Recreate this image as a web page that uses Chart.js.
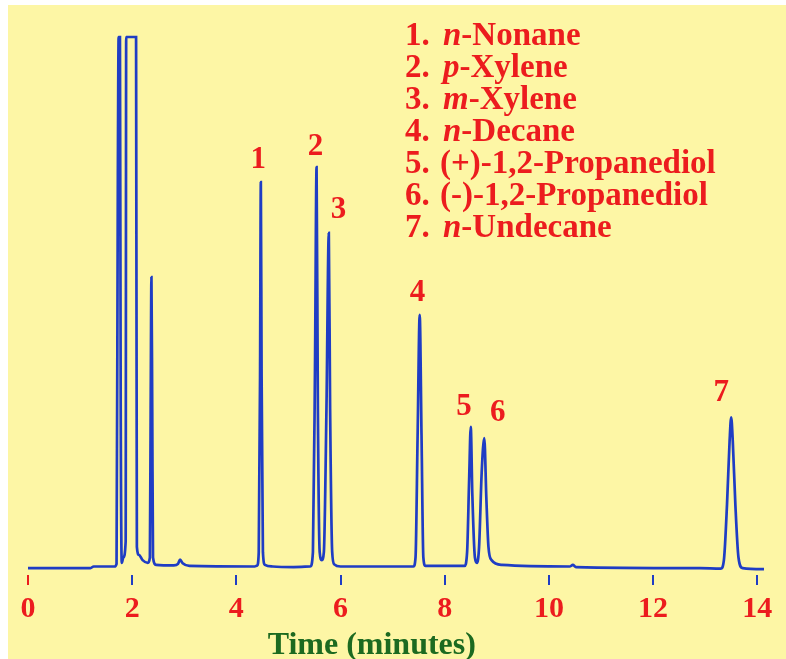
<!DOCTYPE html>
<html>
<head>
<meta charset="utf-8">
<title>Chromatogram</title>
<script src="https://cdn.jsdelivr.net/npm/chart.js@4"></script>
<style>
  html, body { margin: 0; padding: 0; background: #ffffff; }
  #chrom { display: block; }
</style>
</head>
<body>
<canvas id="chrom" width="786" height="659"></canvas>
<script>
// detector trace (time in minutes, signal in % of full scale)
const timeMin = [0.00, 1.20, 1.26, 1.66, 1.70, 1.725, 1.74, 1.765, 1.78, 1.80, 1.83, 1.875, 1.885, 2.075, 2.09, 2.13, 2.20, 2.30,
  2.34, 2.355, 2.37, 2.385, 2.40, 2.46, 2.80, 2.88, 2.92, 2.97, 3.10,
  4.35, 4.40, 4.43, 4.455, 4.47, 4.485, 4.51, 4.55, 4.70, 5.10,
  5.42, 5.47, 5.51, 5.54, 5.565, 5.60, 5.64, 5.68, 5.73, 5.775, 5.80, 5.84, 5.88, 6.00,
  7.40, 7.44, 7.48, 7.52, 7.555, 7.59, 7.63,
  8.38, 8.43, 8.47, 8.50, 8.53, 8.58, 8.62, 8.66, 8.71, 8.76, 8.80, 8.84, 8.90, 9.10,
  10.40, 10.46, 10.52, 12.90, 13.30, 13.36, 13.42, 13.47, 13.50, 13.53, 13.58, 13.64, 13.72, 14.13];
const signal = [0.0, 0.0, 0.3, 0.3, 0.8, 74, 100, 100, 30, 1.0, 2, 5, 100, 100, 4, 2.5, 1.5, 1.0,
  2, 30, 54.8, 30, 2.0, 0.6, 0.5, 0.8, 1.6, 0.9, 0.4,
  0.3, 0.5, 3, 36, 72.7, 36, 3, 0.6, 0.3, 0.2,
  0.3, 3, 38, 75.5, 30, 3, 1.5, 3, 30, 63.1, 30, 3, 0.7, 0.3,
  0.3, 2, 25, 47.7, 25, 2, 0.4,
  0.4, 3, 17, 26.6, 14, 2, 1.0, 4, 18, 24.5, 13, 4, 1.5, 0.6,
  0.3, 0.6, 0.2, 0.0, -0.1, 1.5, 12, 24, 28.4, 24, 12, 2, 0.0, -0.2];

const xTicks = [0, 2, 4, 6, 8, 10, 12, 14];

// peak numbers and where they are written
const peakNumbers = ['1', '2', '3', '4', '5', '6', '7'];
const peakLabelTime = [4.42, 5.52, 5.96, 7.48, 8.37, 9.02, 13.31];
const peakLabelLevel = [76.8, 79.3, 67.4, 51.8, 30.3, 29.2, 33.0];

// legend of compounds
const compoundIds = ['1.', '2.', '3.', '4.', '5.', '6.', '7.'];
const compoundItalic = ['n', 'p', 'm', 'n', '', '', 'n'];
const compoundRest = ['-Nonane', '-Xylene', '-Xylene', '-Decane', '(+)-1,2-Propanediol', '(-)-1,2-Propanediol', '-Undecane'];

const RED = '#ec1c1e';
const BLUE = '#1f3dc4';
const GREEN = '#1c6a20';
const SERIF = '"Liberation Serif", "Times New Roman", serif';

const points = timeMin.map((t, i) => ({ x: t, y: signal[i] }));

const paperPlugin = {
  id: 'paper',
  beforeDraw(chart) {
    const ctx = chart.ctx;
    ctx.save();
    ctx.fillStyle = '#ffffff';
    ctx.fillRect(0, 0, chart.width, chart.height);
    ctx.fillStyle = '#fdf6a5';
    ctx.fillRect(8, 5, chart.width - 8, chart.height - 5);
    ctx.restore();
  }
};

const textPlugin = {
  id: 'texts',
  afterDraw(chart) {
    const ctx = chart.ctx;
    const xs = chart.scales.x, ys = chart.scales.y;
    ctx.save();

    // peak numbers
    ctx.fillStyle = RED;
    ctx.font = 'bold 31px ' + SERIF;
    ctx.textAlign = 'center';
    ctx.textBaseline = 'middle';
    peakNumbers.forEach((n, i) => {
      ctx.fillText(n, xs.getPixelForValue(peakLabelTime[i]), ys.getPixelForValue(peakLabelLevel[i]));
    });

    // compound list
    ctx.textAlign = 'left';
    ctx.textBaseline = 'alphabetic';
    compoundIds.forEach((id, i) => {
      const y = 45 + i * 32;
      ctx.font = 'bold 33px ' + SERIF;
      ctx.fillText(id, 405, y);
      let x = 440;
      if (compoundItalic[i]) {
        x = 443;
        ctx.font = 'italic bold 33px ' + SERIF;
        ctx.fillText(compoundItalic[i], x, y);
        x += ctx.measureText(compoundItalic[i]).width;
        ctx.font = 'bold 33px ' + SERIF;
      }
      ctx.fillText(compoundRest[i], x, y);
    });

    // axis title
    ctx.fillStyle = GREEN;
    ctx.font = 'bold 32px ' + SERIF;
    ctx.textAlign = 'center';
    ctx.fillText('Time (minutes)', xs.getPixelForValue(6.6), 654);
    ctx.restore();
  }
};

new Chart(document.getElementById('chrom'), {
  type: 'line',
  data: {
    datasets: [{
      data: points,
      borderColor: BLUE,
      borderWidth: 2.7,
      pointRadius: 0,
      fill: false,
      cubicInterpolationMode: 'monotone',
      clip: false
    }]
  },
  options: {
    responsive: false,
    animation: false,
    layout: { padding: { left: 28, right: 22, top: 37, bottom: 26 } },
    plugins: {
      legend: { display: false },
      title: { display: false },
      tooltip: { enabled: false }
    },
    scales: {
      x: {
        type: 'linear',
        min: 0,
        max: 14.13,
        border: { display: false },
        grid: {
          drawOnChartArea: false,
          drawTicks: true,
          tickLength: 10,
          lineWidth: 2,
          color: c => (c.tick && c.tick.value === 0 ? RED : BLUE)
        },
        afterBuildTicks: axis => { axis.ticks = xTicks.map(v => ({ value: v })); },
        ticks: {
          includeBounds: false,
          color: RED,
          padding: 6,
          font: { family: SERIF, size: 30, weight: 'bold' }
        }
      },
      y: {
        display: false,
        min: -1.3,
        max: 100
      }
    }
  },
  plugins: [paperPlugin, textPlugin]
});
</script>
</body>
</html>
